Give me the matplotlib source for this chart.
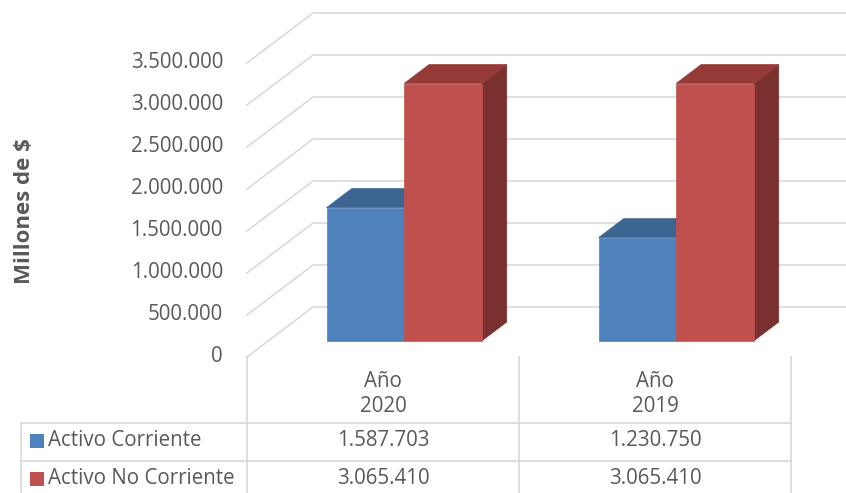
import matplotlib.pyplot as plt
from matplotlib.patches import Polygon, Rectangle

# datos (millones de $)
categorias = ["Año\n2020", "Año\n2019"]
series = ["Activo Corriente", "Activo No Corriente"]
activo_corriente = [1587703, 1230750]
activo_no_corriente = [3065410, 3065410]
ticks = [0, 500000, 1000000, 1500000, 2000000, 2500000, 3000000, 3500000]

colores = {
    "Activo Corriente": ("#4F81BD", "#3D6592", "#2F4D70"),
    "Activo No Corriente": ("#C0504D", "#943A38", "#7B3030"),
}
gris_linea = "#D9D9D9"
gris_texto = "#595959"
plt.rcParams["font.family"] = ["Open Sans", "DejaVu Sans"]
FS = 14.8


def fmt(v):
    return f"{v:,}".replace(",", ".")


fig = plt.figure(figsize=(8.46, 4.93), dpi=100)
W, H = 846, 493
# eje "frontal": x en categorias (0..2), y en valores
ax = fig.add_axes([247 / W, (H - 357) / H, 544 / W, 294 / H])
ax.set_xlim(0, 2)
ax.set_ylim(0, 3500000)
ax.axis("off")

# desplazamiento de profundidad (fondo) en unidades de datos
DX = 66 / 272
DY = 50 / 84 * 1e6


def proj(x, y, d):
    return (x + d * DX, y + d * DY)


# paredes: lineas de cuadricula
for v in ticks:
    pts = [proj(0, v, 0), proj(0, v, 1), proj(2, v, 1)]
    ax.plot([p[0] for p in pts], [p[1] for p in pts], color=gris_linea,
            lw=1.2, clip_on=False, zorder=1)
    ax.text((223 - 247) / 272, v, fmt(v), ha="right", va="center",
            fontsize=FS, color=gris_texto, clip_on=False)

ax.text((25 - 247) / 272, (357 - 211) / 294, "Millones de $", rotation=90,
        ha="center", va="center", fontsize=16, fontweight="bold",
        color=gris_texto, transform=ax.get_xaxis_transform())

# barras 3D
ancho = 0.285
d0, d1 = 0.32, 0.70
z = 2
for i in range(len(categorias)):
    for j, (nombre, valores) in enumerate([(series[0], activo_corriente),
                                           (series[1], activo_no_corriente)]):
        h = valores[i]
        x0 = i + 0.5 - ancho + j * ancho
        x1 = x0 + ancho
        frente, tapa, lado = colores[nombre]
        caras = [
            ([proj(x1, 0, d0), proj(x1, h, d0), proj(x1, h, d1), proj(x1, 0, d1)], lado),
            ([proj(x0, h, d0), proj(x1, h, d0), proj(x1, h, d1), proj(x0, h, d1)], tapa),
            ([proj(x0, 0, d0), proj(x1, 0, d0), proj(x1, h, d0), proj(x0, h, d0)], frente),
        ]
        for verts, c in caras:
            ax.add_patch(Polygon(verts, closed=True, facecolor=c, edgecolor=c,
                                 lw=0.5, clip_on=False, zorder=z))
        z += 1

# tabla de datos
tr = ax.get_xaxis_transform()


def fy(py):
    return (357 - py) / 294


x_leg = (21 - 247) / 272
for x in [0, 1, 2]:
    ax.plot([x, x], [fy(357), fy(500)], color=gris_linea, lw=1.2,
            transform=tr, clip_on=False)
ax.plot([x_leg, x_leg], [fy(423), fy(500)], color=gris_linea, lw=1.2,
        transform=tr, clip_on=False)
for py in [423, 461]:
    ax.plot([x_leg, 2], [fy(py), fy(py)], color=gris_linea, lw=1.2,
            transform=tr, clip_on=False)

for i, cat in enumerate(categorias):
    ax.text(i + 0.5, fy(394), cat, ha="center", va="center", fontsize=FS,
            color=gris_texto, transform=tr, linespacing=1.25)
    ax.text(i + 0.5, fy(441), fmt(activo_corriente[i]), ha="center",
            va="center", fontsize=FS, color=gris_texto, transform=tr)
    ax.text(i + 0.5, fy(479), fmt(activo_no_corriente[i]), ha="center",
            va="center", fontsize=FS, color=gris_texto, transform=tr)

for nombre, py in zip(series, [441, 479]):
    ax.add_patch(Rectangle(((30 - 247) / 272, fy(py + 7)), 14 / 272, 14 / 294,
                           facecolor=colores[nombre][0], transform=tr,
                           clip_on=False))
    ax.text((48 - 247) / 272, fy(py), nombre, ha="left", va="center",
            fontsize=FS, color=gris_texto, transform=tr)

fig.savefig("out.png", dpi=100)
